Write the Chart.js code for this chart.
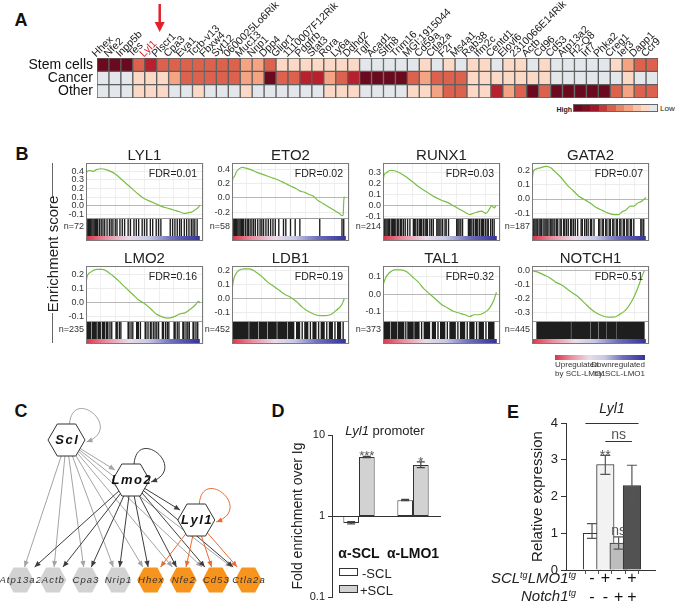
<!DOCTYPE html>
<html>
<head>
<meta charset="utf-8">
<script src="https://cdn.jsdelivr.net/npm/chart.js@4.4.0/dist/chart.umd.min.js"></script>
<style>
  body { margin: 0; background: #fff; }
  #page { position: relative; width: 677px; height: 612px; overflow: hidden; font-family: 'Liberation Sans', Arial, sans-serif; color: #222; }
  #page canvas { position: absolute; }
  .t { position: absolute; white-space: nowrap; line-height: 1; }
  .t sup { font-size: 60%; vertical-align: 45%; }
</style>
</head>
<body>
<div id="page"></div>
<script>
/* ── Data ── */

// A: heatmap
const GENES = ['Hhex','Nfe2','Inpp5b','Tes','Lyl1','Plscr1','Cpa3','Eva1','Tcrb-v13','Fbxw4','Syt12','0600025Lo6Rik','Muc13','Nrip1','Dpp4','Glipr1','1110007F12Rik','Pdgfrb','Stat3','Rora','Ly6a','Ddhd2','Tgif','Acad1','Slfn8','Trim16','MGI:1915044','Cd59a','Ctla2a','F2r','Ms4a1','Rab38','Ifm2c','Centd1','Elovl6','2310066E14Rik','Actb','Cd96','Cd53','Atp13a2','H2-Q8','Irf7','Phka2','Creg1','Ier3','Dapp1','Ccr9'];
const ROWS = ['Stem cells', 'Cancer', 'Other'];
// 0 = low (grey) ... 5 = high (dark red)
const HEAT_STEM   = [5,5,5,3,4,3,3,3,3,3,3,3,2,2,3,1,1,1,1,1,1,1,0,0,0,0,0,1,0,1,0,1,1,0,1,1,0,1,0,0,0,0,0,1,2,3,3];
const HEAT_CANCER = [0,0,0,1,1,1,2,3,3,3,3,3,2,2,5,3,3,4,4,2,3,4,5,5,5,5,3,2,3,3,3,1,1,1,1,1,1,1,0,0,0,0,0,0,1,0,0];
const HEAT_OTHER  = [0,0,0,1,1,1,0,0,1,0,0,0,1,0,0,0,0,0,0,1,1,1,0,0,0,0,1,1,2,3,3,1,1,4,2,3,5,3,5,5,5,5,5,3,2,3,3];

// B: GSEA panels
const GSEA_NAMES = ['LYL1','ETO2','RUNX1','GATA2','LMO2','LDB1','TAL1','NOTCH1'];
const GSEA_FDR = [0.01, 0.02, 0.03, 0.07, 0.16, 0.19, 0.32, 0.51];
const GSEA_N = [72, 58, 214, 187, 235, 452, 373, 445];
const GSEA_MIN = [-0.143, -0.282, -0.112, -0.134, -0.13, -0.158, -0.156, -0.357];
const GSEA_MAX = [0.497, 0.493, 0.388, 0.254, 0.264, 0.23, 0.162, 0.033];
const GSEA_TICKS = [[-0.1,0,0.1,0.2,0.3,0.4],[-0.2,0,0.2,0.4],[-0.1,0,0.1,0.2,0.3],[-0.1,0,0.1,0.2],[-0.1,0,0.1,0.2],[-0.1,0,0.1,0.2],[-0.1,0,0.1],[-0.3,-0.2,-0.1,0]];

// running enrichment score: [rank %, ES]
const ES_LYL1 = [[0,0.37],[1,0.40],[3,0.41],[6,0.40],[9,0.42],[13,0.43],[17,0.42],[21,0.40],[25,0.37],[30,0.31],[35,0.25],[40,0.19],[45,0.13],[50,0.08],[55,0.05],[60,0.02],[65,-0.01],[70,-0.03],[75,-0.05],[80,-0.07],[84,-0.09],[88,-0.08],[91,-0.07],[94,-0.04],[96,-0.02],[97.5,0.01]];
const ES_ETO2 = [[0,0.16],[0.8,0.28],[2,0.30],[3.5,0.36],[6,0.41],[9,0.43],[12,0.42],[16,0.40],[20,0.37],[25,0.34],[30,0.31],[35,0.28],[40,0.25],[45,0.21],[50,0.17],[55,0.13],[58,0.10],[62,0.08],[66,0.05],[70,0.02],[73,-0.03],[78,-0.08],[83,-0.13],[88,-0.18],[92,-0.22],[94,-0.25],[95,-0.24],[95.5,-0.05],[96,0.02]];
const ES_RUNX1 = [[0,0.22],[1,0.28],[3,0.30],[6,0.32],[9,0.32],[14,0.30],[20,0.26],[26,0.21],[32,0.16],[38,0.12],[44,0.08],[50,0.05],[55,0.03],[60,0.0],[65,-0.03],[70,-0.06],[74,-0.08],[77,-0.07],[80,-0.06],[84,-0.05],[88,-0.07],[91,-0.03],[93,0.0],[95,-0.02],[96.5,0.0]];
const ES_GATA2 = [[0,0.12],[1,0.19],[3,0.21],[7,0.22],[12,0.23],[16,0.22],[20,0.19],[25,0.15],[30,0.10],[35,0.06],[40,0.02],[44,0.0],[50,-0.03],[55,-0.06],[60,-0.08],[65,-0.10],[70,-0.11],[74,-0.11],[77,-0.09],[80,-0.08],[84,-0.05],[87,-0.05],[90,-0.03],[93,-0.02],[96,0.0],[97.5,0.01]];
const ES_LMO2 = [[0,0.14],[1,0.19],[4,0.22],[9,0.24],[14,0.24],[19,0.22],[25,0.18],[30,0.14],[35,0.10],[40,0.06],[45,0.02],[49,0.0],[55,-0.04],[60,-0.08],[65,-0.10],[70,-0.11],[75,-0.10],[80,-0.08],[85,-0.07],[90,-0.04],[94,-0.01],[96,0.01],[97.5,0.0]];
const ES_LDB1 = [[0,0.05],[1,0.12],[3,0.17],[6,0.20],[10,0.21],[15,0.21],[20,0.19],[25,0.16],[30,0.12],[35,0.09],[40,0.06],[45,0.03],[50,0.01],[55,-0.02],[60,-0.06],[65,-0.09],[70,-0.11],[75,-0.12],[80,-0.12],[85,-0.11],[88,-0.09],[91,-0.07],[94,-0.04],[96,0.0]];
const ES_TAL1 = [[0,0.05],[2,0.09],[5,0.12],[10,0.14],[15,0.14],[20,0.13],[25,0.10],[30,0.07],[35,0.03],[40,0.0],[45,-0.03],[50,-0.06],[55,-0.08],[60,-0.10],[65,-0.11],[70,-0.12],[74,-0.13],[78,-0.12],[82,-0.12],[86,-0.11],[90,-0.09],[93,-0.06],[95,-0.03],[97,0.01]];
const ES_NOTCH1 = [[0,0.0],[5,-0.01],[10,-0.03],[15,-0.05],[20,-0.08],[25,-0.10],[30,-0.13],[35,-0.16],[40,-0.19],[45,-0.23],[50,-0.27],[55,-0.30],[60,-0.32],[65,-0.33],[70,-0.33],[75,-0.31],[80,-0.28],[85,-0.22],[88,-0.17],[91,-0.11],[94,-0.04],[96,0.0]];

// gene-set hits: single rank % or [from, to] dense block
const HITS_LYL1 = [1,2,3,4,5,6,7,8,9,10,11.5,13,14.5,16,18,20,21.5,23,25,26.5,29,31,33,36,38,41,43,45,48,50,52,55,57,60,62,64,72,74,76,78,80,81.5,84,86,88,90,91.5,93,95];
const HITS_ETO2 = [1,2,3,4,5,6,7,8,9,10,11.5,13,14,15.5,17,18.5,20,22,24,25.5,27,29,31,33,35,37,40,44,46,50,54,58,75,94,95.5];
const HITS_RUNX1 = [0.5,1.5,2.5,3.5,4.5,5.5,7,8,9,10,11,12.5,13.5,15,16,17.5,19,21,23,26,27,28,29.5,31,32,33,34.5,36,37,38,40,41.5,43,46,47,48,49.5,51,53,54,56,63,64,65,66.5,68,73,74,75,76,77.5,79,80,81,82.5,84,85,86,87.5,89,90,92,93.5,95];
const HITS_GATA2 = [0.5,1.5,2.5,3.5,4.5,6,7,8,9.5,11,12,13,14.5,16,17,18,19.5,21,22,24,25,27,28,29.5,31,33,34,35.5,37,39,42,43,45,46.5,48,50,51,53,57,58,60,61,63,64,66,67,69,70,72,73,75,76,78,79,81,82,84,85,87,93,94,95.5];
const HITS_LMO2 = [[1,4],[5,9],[10,12.5],[13.7,16],[17,19],20.5,22,[25.4,27],28.5,29.8,[35.7,37],38.5,40,[43,45],46.5,[50.3,51.5],53,[54.7,56],57.5,59,60.5,62,[65,66.5],68,69.5,70.8,[75,76.5],78,79.5,[82.5,84],85.5,87,88.3,[91.2,92.5],94,95.5];
const HITS_LDB1 = [[0.5,14],[15,22],[23,30],[31,38],[39,47],[48,53],[55,58],60,[62,65],67,[69,72],74,[76,79],81,[83,86],88,[90,93],95];
const HITS_TAL1 = [[0.5,6],[7,12],[13,18],19.5,[21,26],[27,31],33,[35,40],[42,45],47,[49,53],55,[57,62],64,[66,70],72,[74,78],80,[82,86],88,[90,95]];
const HITS_NOTCH1 = [[4,33],[33.8,49.5],[50.3,56.5],[57.3,63.5],[64.2,71.5],[72.3,96]];

// C: regulatory network
const NET_NODES = ['Scl','Lmo2','Lyl1','Atp13a2','Actb','Cpa3','Nrip1','Hhex','Nfe2','Cd53','Ctla2a'];
const NET_COL   = [1.42, 3.4, 5.4, 0, 1, 2, 3, 4, 5, 6, 7];
const NET_LEVEL = [0, 1, 2, 3.5, 3.5, 3.5, 3.5, 3.5, 3.5, 3.5, 3.5];
const NET_GROUP = ['tf','tf','tf','other','other','other','other','lyl1','lyl1','lyl1','lyl1'];
const NET_EDGES = [
  ['Scl','Scl'],['Scl','Lmo2'],['Scl','Atp13a2'],['Scl','Actb'],['Scl','Cpa3'],['Scl','Nrip1'],['Scl','Hhex'],['Scl','Nfe2'],['Scl','Cd53'],['Scl','Ctla2a'],
  ['Lmo2','Lmo2'],['Lmo2','Lyl1'],['Lmo2','Atp13a2'],['Lmo2','Actb'],['Lmo2','Cpa3'],['Lmo2','Nrip1'],['Lmo2','Hhex'],['Lmo2','Nfe2'],['Lmo2','Cd53'],['Lmo2','Ctla2a'],
  ['Lyl1','Lyl1'],['Lyl1','Hhex'],['Lyl1','Nfe2'],['Lyl1','Cd53'],['Lyl1','Ctla2a']
];

// D: ChIP
const CHIP_GROUPS = ['α-SCL', 'α-LMO1'];
const CHIP_MINUS = [0.82, 1.57];
const CHIP_PLUS = [5.35, 4.27];
const CHIP_MINUS_ERR = [[0.80, 0.85], [1.55, 1.60]];
const CHIP_PLUS_ERR = [[5.25, 5.45], [3.95, 4.65]];
const CHIP_SIG = ['***', '*'];
const CHIP_TICKS = [0.1, 1, 10];

// E: qPCR
const QPCR_SCL = ['-', '+', '-', '+'];
const QPCR_NOTCH = ['-', '-', '+', '+'];
const QPCR_VAL = [1.0, 2.87, 0.73, 2.3];
const QPCR_ERR = [[0.86, 1.26], [2.6, 3.12], [0.57, 0.9], [1.83, 2.85]];
const QPCR_SIG = ['', '**', 'ns', ''];
const QPCR_BRACKET = [2, 4, 3.5, 'ns'];

/* ── Helpers ── */
const FONT = "'Liberation Sans', Arial, sans-serif";
Chart.defaults.font.family = FONT;
Chart.defaults.color = '#222';
Chart.defaults.animation = false;
Chart.defaults.responsive = false;
Chart.defaults.devicePixelRatio = 1;
Chart.defaults.plugins.legend.display = false;
Chart.defaults.plugins.tooltip.enabled = false;

const page = document.getElementById('page');

function canvas(x, y, w, h) {
  const c = document.createElement('canvas');
  c.width = w; c.height = h;
  c.style.left = x + 'px'; c.style.top = y + 'px';
  c.style.width = w + 'px'; c.style.height = h + 'px';
  page.appendChild(c);
  return c;
}

function txt(html, x, y, css, align, rot) {
  const d = document.createElement('div');
  d.className = 't';
  d.innerHTML = html;
  d.style.cssText += css || '';
  d.style.left = x + 'px'; d.style.top = y + 'px';
  const tx = align === 'l' ? '0' : align === 'r' ? '-100%' : '-50%';
  d.style.transform = 'translate(' + tx + ',-50%)' + (rot ? ' rotate(' + rot + 'deg)' : '');
  page.appendChild(d);
  return d;
}

function box(x, y, w, h, css) {
  const d = document.createElement('div');
  d.style.cssText = 'position:absolute;left:' + x + 'px;top:' + y + 'px;width:' + w + 'px;height:' + h + 'px;' + (css || '');
  page.appendChild(d);
  return d;
}

// axis sizing without the half-label padding chart.js adds around the plot
function fixedWidth(w) {
  return s => { s.width = w; s.paddingTop = 0; s.paddingBottom = 0; };
}
function fixedHeight(h) {
  return s => { s.height = h; s.paddingLeft = 0; s.paddingRight = 0; };
}

function drawErr(ctx, x, yLo, yHi, color, cap) {
  ctx.save();
  ctx.strokeStyle = color; ctx.lineWidth = 1.2;
  ctx.beginPath();
  ctx.moveTo(x, yLo); ctx.lineTo(x, yHi);
  ctx.moveTo(x - cap, yLo); ctx.lineTo(x + cap, yLo);
  ctx.moveTo(x - cap, yHi); ctx.lineTo(x + cap, yHi);
  ctx.stroke();
  ctx.restore();
}

function arrowHead(ctx, x, y, ang, col, len, half) {
  ctx.save();
  ctx.fillStyle = col;
  ctx.translate(x, y); ctx.rotate(ang);
  ctx.beginPath(); ctx.moveTo(0, 0); ctx.lineTo(-len, -half); ctx.lineTo(-len, half); ctx.closePath();
  ctx.fill();
  ctx.restore();
}

/* ── Panel letters ── */
const LETTER = 'font-size:18px;font-weight:bold;color:#111';
txt('A', 21, 20, LETTER);
txt('B', 22, 154, LETTER);
txt('C', 21, 411, LETTER);
txt('D', 278, 411, LETTER);
txt('E', 513, 412, LETTER);

/* ── A: heatmap ── */
const HEAT_COLORS = ['#e3e6ea', '#fcd9c6', '#f4a483', '#dc624e', '#b8202e', '#6b0a1e'];
const heatArrow = {
  id: 'heatArrow',
  afterDraw(chart) {
    const ctx = chart.ctx;
    const x = chart.scales.x.getPixelForValue(GENES.indexOf('Lyl1')) + 9;
    ctx.save();
    ctx.strokeStyle = '#e4202a'; ctx.lineWidth = 2.5;
    ctx.beginPath(); ctx.moveTo(x, 4); ctx.lineTo(x, 24); ctx.stroke();
    arrowHead(ctx, x, 32, Math.PI / 2, '#e4202a', 10, 5);
    ctx.restore();
  }
};
new Chart(canvas(0, 0, 677, 100), {
  type: 'bar',
  data: {
    labels: GENES,
    datasets: [HEAT_STEM, HEAT_CANCER, HEAT_OTHER].map((row, r) => ({
      label: ROWS[r],
      data: row.map(() => 1),
      backgroundColor: row.map(v => HEAT_COLORS[v]),
      borderColor: '#5e5e5e', borderWidth: 1, borderSkipped: false,
      categoryPercentage: 1, barPercentage: 1
    }))
  },
  options: {
    layout: { padding: { left: 0, right: 19, top: 0, bottom: 2 } },
    scales: {
      x: {
        position: 'top', stacked: true,
        grid: { display: false, drawTicks: false }, border: { display: false },
        ticks: {
          autoSkip: false, minRotation: 45, maxRotation: 45, padding: -2,
          font: { size: 10.5 },
          color: c => GENES[c.index] === 'Lyl1' ? '#e4202a' : '#1a1a1a'
        },
        afterFit: fixedHeight(58)
      },
      y: {
        stacked: true, min: 0, max: 3, reverse: true,
        grid: { display: false, drawTicks: false }, border: { display: false },
        afterBuildTicks: s => { s.ticks = [0.5, 1.5, 2.5].map(v => ({ value: v })); },
        ticks: { autoSkip: false, font: { size: 14 }, color: '#111', padding: 4, callback: v => ROWS[Math.floor(v)] },
        afterFit: fixedWidth(97)
      }
    }
  },
  plugins: [heatArrow]
});

// heatmap colour key
const KEY_COLORS = ['#6b0a1e', '#7e0c22', '#a0172a', '#c23a3a', '#d8604c', '#e98466', '#f4a483', '#f9c3a9', '#fcd9c6', '#e3e6ea'];
KEY_COLORS.forEach((c, i) => box(573 + i * 8.5, 104, 8.5, 8, 'background:' + c));
box(573, 104, 85, 8, 'border:1px solid #666;box-sizing:border-box');
txt('High', 572, 109, 'font-size:7px;font-weight:bold', 'r');
txt('Low', 660, 109, 'font-size:8px', 'l');

/* ── B: GSEA plots ── */
const GSEA_ES = [ES_LYL1, ES_ETO2, ES_RUNX1, ES_GATA2, ES_LMO2, ES_LDB1, ES_TAL1, ES_NOTCH1];
const GSEA_HITS = [HITS_LYL1, HITS_ETO2, HITS_RUNX1, HITS_GATA2, HITS_LMO2, HITS_LDB1, HITS_TAL1, HITS_NOTCH1];

function rankGradient(ctx) {
  const ch = ctx.chart, a = ch.chartArea;
  if (!a) return '#ccc';
  const g = ch.ctx.createLinearGradient(a.left, 0, a.left + (a.right - a.left) * 0.97, 0);
  g.addColorStop(0, '#d9354a');
  g.addColorStop(0.18, '#e98ea0');
  g.addColorStop(0.38, '#eadbe8');
  g.addColorStop(0.55, '#c8c8e4');
  g.addColorStop(0.75, '#7070bc');
  g.addColorStop(1, '#34349a');
  return g;
}

const gseaFrame = {
  id: 'gseaFrame',
  afterDatasetsDraw(chart) {
    const a = chart.chartArea, ctx = chart.ctx, ye = chart.scales.y;
    ctx.save();
    ctx.strokeStyle = '#9a9a9a'; ctx.lineWidth = 1;
    ctx.beginPath();
    ctx.moveTo(a.left, Math.round(ye.bottom) + 0.5); ctx.lineTo(a.right, Math.round(ye.bottom) + 0.5);
    ctx.stroke();
    ctx.strokeStyle = '#7a7a7a';
    ctx.strokeRect(a.left + 0.5, a.top + 0.5, a.right - a.left - 1, a.bottom - a.top - 1);
    ctx.restore();
  }
};

function gsea(i) {
  const L = [86, 232, 383, 532][i % 4], T = [163, 266][Math.floor(i / 4)];
  const W = 117, H = 78, AX = 34;
  const nLabel = 'n=' + GSEA_N[i];
  const fit = fixedWidth(AX);
  new Chart(canvas(L - AX, T - 1, AX + W + 3, H + 2), {
    type: 'line',
    data: {
      datasets: [
        {
          type: 'line', xAxisID: 'x', yAxisID: 'y',
          data: GSEA_ES[i].map(p => ({ x: p[0], y: p[1] })),
          borderColor: '#78be43', borderWidth: 1.2, pointRadius: 0,
          cubicInterpolationMode: 'monotone', fill: false
        },
        {
          type: 'bar', indexAxis: 'y', xAxisID: 'x', yAxisID: 'yh',
          data: GSEA_HITS[i].map(h => ({ y: nLabel, x: Array.isArray(h) ? h : [h - 0.3, h + 0.3] })),
          backgroundColor: '#1e1e1e', borderWidth: 0,
          barPercentage: 1, categoryPercentage: 1, grouped: false
        },
        {
          type: 'bar', indexAxis: 'y', xAxisID: 'x', yAxisID: 'yc',
          data: [{ y: 'c', x: [0, 97] }],
          backgroundColor: rankGradient, borderWidth: 0,
          barPercentage: 1, categoryPercentage: 1
        }
      ]
    },
    options: {
      layout: { padding: { left: 0, right: 3, top: 1, bottom: 1 } },
      scales: {
        x: {
          type: 'linear', min: 0, max: 100, position: 'bottom',
          ticks: { display: false, stepSize: 12.5 },
          border: { display: false },
          grid: { color: '#efefef', drawTicks: false },
          afterFit: fixedHeight(0)
        },
        yc: {
          type: 'category', axis: 'y', position: 'left', stack: 'g', stackWeight: 5,
          labels: ['c'], offset: true,
          ticks: { display: false },
          grid: { display: false, drawTicks: false }, border: { display: false },
          afterFit: fit
        },
        yh: {
          type: 'category', axis: 'y', position: 'left', stack: 'g', stackWeight: 18,
          labels: [nLabel], offset: true,
          ticks: { font: { size: 9 }, padding: 2, color: '#333' },
          grid: { display: false, drawTicks: false }, border: { display: false },
          afterFit: fit
        },
        y: {
          type: 'linear', axis: 'y', position: 'left', stack: 'g', stackWeight: 55,
          min: GSEA_MIN[i], max: GSEA_MAX[i],
          afterBuildTicks: s => { s.ticks = GSEA_TICKS[i].map(v => ({ value: v })); },
          ticks: { autoSkip: false, font: { size: 9 }, padding: 2, color: '#333', callback: v => v.toFixed(1) },
          grid: { color: c => (c.tick && c.tick.value === 0) ? '#b8b8b8' : '#ececec', drawTicks: false },
          border: { display: false },
          afterFit: fit
        }
      }
    },
    plugins: [gseaFrame]
  });
  txt(GSEA_NAMES[i], L + W / 2, T - 9, 'font-size:15px');
  txt('FDR=' + GSEA_FDR[i].toFixed(2), L + W - 6, T + 10, 'font-size:10.5px', 'r');
}
GSEA_NAMES.forEach((_, i) => gsea(i));

txt('Enrichment score', 52, 254, 'font-size:15px', 'c', -90);
box(52, 163, 1, 34, 'background:#666');
box(52, 313, 1, 30, 'background:#666');

box(555, 355, 90, 5, 'background:linear-gradient(90deg,#d9354a 0%,#e98ea0 18%,#eadbe8 38%,#c8c8e4 55%,#7070bc 75%,#34349a 100%)');
txt('Upregulated', 555, 365, 'font-size:8px;color:#333', 'l');
txt('by SCL-LMO1', 555, 374, 'font-size:8px;color:#333', 'l');
txt('Downregulated', 645, 365, 'font-size:8px;color:#333', 'r');
txt('by SCL-LMO1', 645, 374, 'font-size:8px;color:#333', 'r');

/* ── C: network ── */
const EDGE_COLORS = { Scl: '#a3a3a3', Lmo2: '#3d3d3d', Lyl1: '#ee6a2c' };
const NODE_FILL = { tf: '#ffffff', other: '#d2d2d2', lyl1: '#f7941d' };

function hexPath(ctx, x, y, rx, ry) {
  ctx.beginPath();
  ctx.moveTo(x - rx, y);
  ctx.lineTo(x - rx / 2, y - ry);
  ctx.lineTo(x + rx / 2, y - ry);
  ctx.lineTo(x + rx, y);
  ctx.lineTo(x + rx / 2, y + ry);
  ctx.lineTo(x - rx / 2, y + ry);
  ctx.closePath();
}

const netPlugin = {
  id: 'net',
  afterDatasetsDraw(chart) {
    const ctx = chart.ctx, pts = chart.getDatasetMeta(0).data;
    const P = n => pts[NET_NODES.indexOf(n)];
    const isTf = n => NET_GROUP[NET_NODES.indexOf(n)] === 'tf';
    ctx.save();
    ctx.lineWidth = 1;
    NET_EDGES.forEach(([s, t]) => {
      const a = P(s), b = P(t), col = EDGE_COLORS[s];
      ctx.strokeStyle = col;
      if (s === t) {
        const x0 = a.x + 3, y0 = a.y - 16, x3 = a.x + 20, y3 = a.y + 2;
        const c1x = a.x + 6, c1y = a.y - 54, c2x = a.x + 58, c2y = a.y - 12;
        ctx.beginPath(); ctx.moveTo(x0, y0); ctx.bezierCurveTo(c1x, c1y, c2x, c2y, x3, y3); ctx.stroke();
        arrowHead(ctx, x3, y3, Math.atan2(y3 - c2y, x3 - c2x), col, 6, 2.6);
        return;
      }
      const dx = b.x - a.x, dy = b.y - a.y, len = Math.hypot(dx, dy);
      const f = isTf(t) ? 1 - 19 / len : (dy - 13) / dy;
      const ex = a.x + dx * f, ey = a.y + dy * f;
      ctx.beginPath(); ctx.moveTo(a.x, a.y); ctx.lineTo(ex, ey); ctx.stroke();
      arrowHead(ctx, ex, ey, Math.atan2(dy, dx), col, 6, 2.6);
    });
    NET_NODES.forEach((n, i) => {
      const p = pts[i], tf = NET_GROUP[i] === 'tf';
      hexPath(ctx, p.x, p.y, tf ? 18.5 : 13.5, tf ? 16 : 12.5);
      ctx.fillStyle = NODE_FILL[NET_GROUP[i]];
      ctx.fill();
      if (tf) { ctx.strokeStyle = '#333'; ctx.lineWidth = 1; ctx.stroke(); }
      ctx.fillStyle = tf ? '#111' : '#333';
      ctx.font = tf ? 'italic bold 13px ' + FONT : 'italic 9.5px ' + FONT;
      ctx.letterSpacing = tf ? '1.5px' : '1px';
      ctx.textAlign = 'center'; ctx.textBaseline = 'middle';
      ctx.fillText(n, p.x + (tf ? 0.75 : 0.5), p.y + 0.5);
    });
    ctx.restore();
  }
};

new Chart(canvas(0, 395, 268, 215), {
  type: 'scatter',
  data: { datasets: [{ data: NET_NODES.map((n, i) => ({ x: NET_COL[i], y: NET_LEVEL[i] })), pointRadius: 0 }] },
  options: {
    layout: { padding: 0 },
    scales: {
      x: { display: false, min: -0.62, max: 7.6 },
      y: { display: false, min: -1.125, max: 4.25, reverse: true }
    }
  },
  plugins: [netPlugin]
});

/* ── D: ChIP ── */
const chipPlugin = {
  id: 'chipErr',
  afterDatasetsDraw(chart) {
    const ctx = chart.ctx, y = chart.scales.y;
    [CHIP_MINUS_ERR, CHIP_PLUS_ERR].forEach((errs, d) => {
      const meta = chart.getDatasetMeta(d);
      errs.forEach((e, i) => drawErr(ctx, meta.data[i].x, y.getPixelForValue(e[0]), y.getPixelForValue(e[1]), '#444', 4));
    });
    const meta = chart.getDatasetMeta(1);
    ctx.save();
    ctx.font = '13px ' + FONT; ctx.fillStyle = '#555'; ctx.textAlign = 'center';
    CHIP_SIG.forEach((s, i) => ctx.fillText(s, meta.data[i].x, y.getPixelForValue(CHIP_PLUS_ERR[i][1]) + 4));
    ctx.restore();
  }
};

new Chart(canvas(288, 425, 162, 180), {
  type: 'bar',
  data: {
    labels: CHIP_GROUPS,
    datasets: [
      { label: '-SCL', data: CHIP_MINUS.map(v => [1, v]), backgroundColor: '#ffffff', borderColor: '#333', borderWidth: 1, borderSkipped: false, categoryPercentage: 0.58, barPercentage: 1 },
      { label: '+SCL', data: CHIP_PLUS.map(v => [1, v]), backgroundColor: '#d2d2d2', borderColor: '#333', borderWidth: 1, borderSkipped: false, categoryPercentage: 0.58, barPercentage: 1 }
    ]
  },
  options: {
    layout: { padding: { left: 0, top: 10, right: 10, bottom: 8 } },
    scales: {
      x: {
        position: { y: 1 },
        grid: { display: false, drawTicks: false },
        border: { color: '#333' },
        ticks: { autoSkip: false, minRotation: 0, maxRotation: 0, font: { size: 14, weight: 'bold' }, padding: 30, color: '#111' },
        afterFit: s => { s.paddingLeft = 0; s.paddingRight = 0; }
      },
      y: {
        type: 'logarithmic', min: 0.1, max: 10,
        afterBuildTicks: s => { s.ticks = CHIP_TICKS.map(v => ({ value: v })); },
        ticks: { font: { size: 11 }, padding: 3, color: '#222', callback: v => String(v) },
        grid: { drawOnChartArea: false, tickLength: 4, color: '#333' },
        border: { color: '#333' },
        title: { display: true, text: 'Fold enrichment over Ig', font: { size: 14 }, padding: 2, color: '#222' },
        afterFit: fixedWidth(44)
      }
    }
  },
  plugins: [chipPlugin]
});

txt('<i>Lyl1</i> promoter', 385, 430, 'font-size:13px');
box(339, 568, 19, 8, 'background:#fff;border:1px solid #333;box-sizing:border-box');
txt('-SCL', 362, 573, 'font-size:13px', 'l');
box(339, 585, 19, 8, 'background:#d2d2d2;border:1px solid #333;box-sizing:border-box');
txt('+SCL', 360, 590, 'font-size:13px', 'l');

/* ── E: qPCR ── */
const qpcrPlugin = {
  id: 'qpcr',
  afterDatasetsDraw(chart) {
    const ctx = chart.ctx, xs = chart.scales.x, ys = chart.scales.y, meta = chart.getDatasetMeta(0);
    QPCR_ERR.forEach((e, i) => drawErr(ctx, meta.data[i].x, ys.getPixelForValue(e[0]), ys.getPixelForValue(e[1]), '#555', 5));
    ctx.save();
    ctx.font = '14px ' + FONT; ctx.fillStyle = '#555'; ctx.textAlign = 'center';
    QPCR_SIG.forEach((s, i) => {
      if (!s) return;
      const top = ys.getPixelForValue(QPCR_ERR[i][1]);
      ctx.fillText(s, meta.data[i].x, s.includes('*') ? top + 5 : top - 2);
    });
    // title underline and comparison bracket
    ctx.strokeStyle = '#333'; ctx.lineWidth = 1;
    const yTop = Math.round(ys.getPixelForValue(ys.max)) + 0.5;
    ctx.beginPath(); ctx.moveTo(xs.getPixelForValue(0.5), yTop); ctx.lineTo(xs.getPixelForValue(4.5), yTop); ctx.stroke();
    const [from, to, at, label] = QPCR_BRACKET;
    const yb = Math.round(ys.getPixelForValue(at)) + 0.5;
    ctx.beginPath(); ctx.moveTo(xs.getPixelForValue(from), yb); ctx.lineTo(xs.getPixelForValue(to), yb); ctx.stroke();
    ctx.fillText(label, xs.getPixelForValue((from + to) / 2), yb - 3);
    ctx.restore();
  }
};

new Chart(canvas(527, 400, 150, 212), {
  type: 'bar',
  data: {
    datasets: [{
      data: QPCR_VAL.map((v, i) => ({ x: i + 1, y: v })),
      backgroundColor: ['#ffffff', '#f2f2f2', '#bdbdbd', '#525252'],
      borderColor: '#333', borderWidth: 1, barThickness: 17.5
    }]
  },
  options: {
    layout: { padding: { left: 0, top: 23, right: 22, bottom: 0 } },
    scales: {
      x: {
        type: 'linear', min: -0.12, max: 4.9,
        afterBuildTicks: s => { s.ticks = [1, 2, 3, 4].map(v => ({ value: v })); },
        ticks: { font: { size: 16 }, color: '#111', padding: -5, callback: v => [QPCR_SCL[v - 1], QPCR_NOTCH[v - 1]] },
        grid: { drawOnChartArea: false, tickLength: 4, color: '#555' },
        border: { color: '#333' },
        afterFit: fixedHeight(42)
      },
      y: {
        min: 0, max: 4,
        ticks: { stepSize: 1, font: { size: 13 }, padding: 3, color: '#222' },
        grid: { drawOnChartArea: false, tickLength: 5, color: '#333' },
        border: { color: '#333' },
        title: { display: true, text: 'Relative expression', font: { size: 15 }, padding: 2, color: '#222' },
        afterFit: fixedWidth(39)
      }
    }
  },
  plugins: [qpcrPlugin]
});

txt('<i>Lyl1</i>', 612, 408, 'font-size:14px');
txt('<i>SCL<sup>tg</sup>LMO1<sup>tg</sup></i>', 576, 577, 'font-size:15px', 'r');
txt('<i>Notch1<sup>tg</sup></i>', 576, 595, 'font-size:15px', 'r');
</script>
</body>
</html>
